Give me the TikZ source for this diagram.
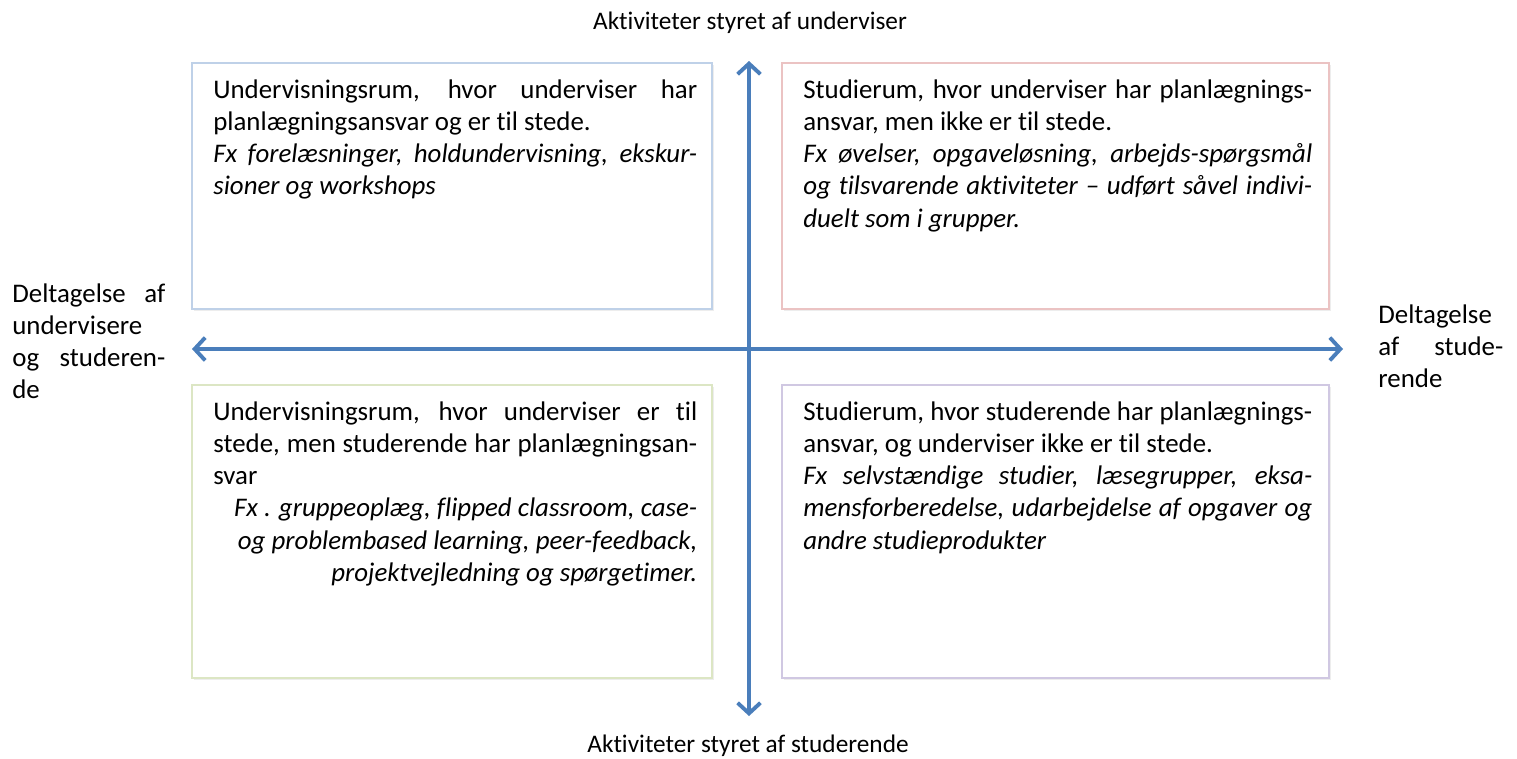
\documentclass[tikz,border=0pt]{standalone}
\usepackage{fontspec}
\setmainfont{Carlito}[Ligatures={NoCommon}]
\usetikzlibrary{arrows.meta}
\usetikzlibrary{shadows}
\definecolor{axisblue}{HTML}{4A7EBB}
\definecolor{roomblue}{HTML}{BFD1E8}
\definecolor{roomred}{HTML}{EBC3C3}
\definecolor{roomgreen}{HTML}{DCE6C4}
\definecolor{roompurple}{HTML}{D0C8E2}
\newcommand{\roomfont}{\fontsize{15.3pt}{18.4pt}\selectfont\hyphenpenalty=10000\exhyphenpenalty=10000\tolerance=10000\emergencystretch=0pt}
\newcommand{\axisfont}{\fontsize{14.4pt}{18.4pt}\selectfont}

\begin{document}
\begin{tikzpicture}[x=0.02cm,y=-0.02cm,
    axis/.style={draw=axisblue,line width=2.2pt,{Straight Barb[length=6pt,width=13pt]}-{Straight Barb[length=6pt,width=13pt]}},
    room box/.style={rectangle,draw,line width=1.2pt,fill=white,inner sep=0pt,
      drop shadow={shadow xshift=1pt,shadow yshift=-1pt,opacity=.2,fill=black!35}},
    room text/.style={anchor=base west,inner sep=0pt,align=justify,font=\roomfont},
    side text/.style={anchor=base west,inner sep=0pt,align=justify,font=\roomfont},
    axis text/.style={anchor=base,inner sep=0pt,font=\axisfont}]
   \useasboundingbox (0,0) rectangle (1517,758);
   % the four rooms
   \node[room box,draw=roomblue,minimum width=10.4cm,minimum height=4.92cm] (tl) at (452,186) {};
   \node[room box,draw=roomred,minimum width=10.94cm,minimum height=4.92cm] (tr) at (1055.5,186) {};
   \node[room box,draw=roomgreen,minimum width=10.4cm,minimum height=5.86cm] (bl) at (452,531.5) {};
   \node[room box,draw=roompurple,minimum width=10.94cm,minimum height=5.86cm] (br) at (1055.5,531.5) {};
   \node[room text,text width=9.68cm] (tltext) at (213,98) {Undervisningsrum, hvor underviser har\linebreak
     planlægningsansvar og er til stede.\par
     \itshape Fx forelæsninger, holdundervisning, ekskur-\linebreak sioner og workshops};
   \node[room text,text width=10.18cm] (trtext) at (803,98) {Studierum, hvor underviser har planlægnings-\linebreak
     ansvar, men ikke er til stede.\par
     \itshape Fx øvelser, opgaveløsning, arbejds-spørgsmål\linebreak
     og tilsvarende aktiviteter – udført såvel indivi-\linebreak duelt som i grupper.};
   \node[room text,text width=9.68cm] (bltext) at (213,420) {Undervisningsrum, hvor underviser er til\linebreak
     stede, men studerende har planlægningsan-\linebreak svar\par
     {\raggedleft\itshape Fx . gruppeoplæg, flipped classroom, case-\\
     og problembased learning, peer-feedback,\\ projektvejledning og spørgetimer.\par}};
   \node[room text,text width=10.18cm] (brtext) at (803,420) {Studierum, hvor studerende har planlægnings-\linebreak
     ansvar, og underviser ikke er til stede.\par
     \itshape Fx selvstændige studier, læsegrupper, eksa-\linebreak
     mensforberedelse, udarbejdelse af opgaver og\linebreak andre studieprodukter};
   % axes
   \coordinate (w) at (192,349);
   \coordinate (e) at (1343,349);
   \coordinate (n) at (749,61);
   \coordinate (s) at (749,716);
   \draw[axis] (w) -- (e);
   \draw[axis] (n) -- (s);
   \node[axis text] (top) at (750,29) {Aktiviteter styret af underviser};
   \node[axis text] (bottom) at (748,752) {Aktiviteter styret af studerende};
   \node[side text,text width=3.06cm] (left) at (12,302) {Deltagelse af\linebreak undervisere\linebreak og studeren-\linebreak de};
   \node[side text,text width=2.5cm] (right) at (1378,323) {Deltagelse\linebreak af stude-\linebreak rende};
\end{tikzpicture}
\end{document}
